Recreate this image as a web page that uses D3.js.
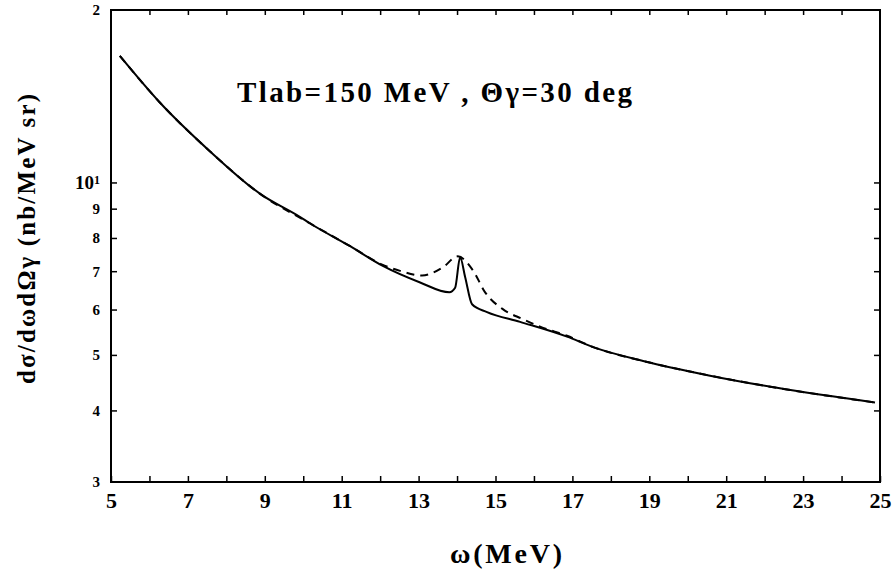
<!DOCTYPE html>
<html>
<head>
<meta charset="utf-8">
<script src="https://cdn.jsdelivr.net/npm/d3@7"></script>
<style>
  body { margin: 0; background: #fff; }
  svg { display: block; }
  text { font-family: "Liberation Serif", "Times New Roman", serif; font-weight: bold; fill: #000; }
</style>
</head>
<body>
<script>
// solid curve
let omegaSolid = [5.23, 6.27, 7.57, 8.88, 9.92, 10.18, 11.22, 12.07, 13.04, 13.8, 13.95, 14.08, 14.21, 14.39, 14.78, 15.64, 16.86, 17.54, 18.84, 20.58, 22.32, 24.87];
let sigmaSolid = [16.63, 13.79, 11.34, 9.55, 8.70, 8.48, 7.74, 7.15, 6.69, 6.43, 6.55, 7.40, 6.84, 6.13, 5.94, 5.71, 5.38, 5.16, 4.88, 4.60, 4.38, 4.13];

// dashed curve
let omegaDashed = [5.23, 6.27, 7.57, 8.88, 10.18, 11.22, 12.07, 12.52, 13.09, 13.63, 14.02, 14.41, 14.73, 15.19, 15.69, 16.16, 16.86, 17.54, 18.84, 20.58, 22.32, 24.87];
let sigmaDashed = [16.63, 13.79, 11.34, 9.55, 8.48, 7.74, 7.18, 7.01, 6.88, 7.11, 7.43, 7.03, 6.43, 6.01, 5.78, 5.60, 5.40, 5.16, 4.88, 4.60, 4.38, 4.13];

let xLabels = [5, 7, 9, 11, 13, 15, 17, 19, 21, 23, 25];
let xTickVals = d3.range(5, 26);
let yTickVals = [3, 4, 5, 6, 7, 8, 9, 10, 20];

let W = 895, H = 575;
let mLeft = 111, mRight = 880, mTop = 10, mBottom = 482;

let svg = d3.select("body").append("svg")
    .attr("width", W)
    .attr("height", H);

svg.append("rect").attr("width", W).attr("height", H).attr("fill", "#fff");

let x = d3.scaleLinear().domain([5, 25]).range([mLeft, mRight]);
let y = d3.scaleLog().domain([3, 20]).range([mBottom, mTop]);

// frame
svg.append("rect")
    .attr("x", mLeft).attr("y", mTop)
    .attr("width", mRight - mLeft).attr("height", mBottom - mTop)
    .attr("fill", "none").attr("stroke", "#000").attr("stroke-width", 2);

// bottom axis
let gx = svg.append("g").attr("transform", "translate(0," + mBottom + ")")
    .call(d3.axisBottom(x).tickValues(xTickVals).tickSize(-6).tickPadding(10)
        .tickFormat(function (d) { return xLabels.indexOf(d) >= 0 ? d : ""; }));
gx.select(".domain").remove();
gx.selectAll("line").attr("stroke-width", 1.5);
gx.selectAll("text").attr("font-family", null).attr("font-size", null).style("font-size", "22px");

// top axis (ticks only)
let gt = svg.append("g").attr("transform", "translate(0," + mTop + ")")
    .call(d3.axisTop(x).tickValues(xTickVals.slice(1, -1)).tickSize(-5).tickFormat(""));
gt.select(".domain").remove();
gt.selectAll("line").attr("stroke-width", 1.5);

// left axis
let gy = svg.append("g").attr("transform", "translate(" + mLeft + ",0)")
    .call(d3.axisLeft(y).tickValues(yTickVals).tickSize(-6).tickPadding(11)
        .tickFormat(function (d) { return d === 20 ? "2" : (d === 10 ? "10" : d); }));
gy.select(".domain").remove();
gy.selectAll("line").attr("stroke-width", 1.5)
    .attr("x2", function (d) { return (d === 3 || d === 20) ? 0 : 6; });
gy.selectAll("text").attr("font-family", null).attr("font-size", null).style("font-size", "15px")
    .each(function (d) {
        if (d === 10) {
            let t = d3.select(this).style("font-size", "19px").text("10");
            t.append("tspan").attr("dy", "-0.45em").style("font-size", "12px").text("1");
        }
    });

// right axis (ticks only)
let gr = svg.append("g").attr("transform", "translate(" + mRight + ",0)")
    .call(d3.axisRight(y).tickValues(yTickVals.slice(1, -1)).tickSize(-6).tickFormat(""));
gr.select(".domain").remove();
gr.selectAll("line").attr("stroke-width", 1.5);

// curves
let line = d3.line()
    .x(function (d) { return x(d[0]); })
    .y(function (d) { return y(d[1]); })
    .curve(d3.curveMonotoneX);

svg.append("path")
    .datum(d3.zip(omegaDashed, sigmaDashed))
    .attr("d", line)
    .attr("fill", "none").attr("stroke", "#000").attr("stroke-width", 2)
    .attr("stroke-dasharray", "8,6");

svg.append("path")
    .datum(d3.zip(omegaSolid, sigmaSolid))
    .attr("d", line)
    .attr("fill", "none").attr("stroke", "#000").attr("stroke-width", 2);

// annotation
svg.append("text")
    .attr("x", 237).attr("y", 102)
    .attr("textLength", 395).attr("lengthAdjust", "spacing")
    .style("font-size", "29px")
    .text("Tlab=150 MeV , \u0398\u03b3=30 deg");

// axis titles
svg.append("text")
    .attr("x", 506).attr("y", 563)
    .attr("text-anchor", "middle")
    .attr("textLength", 112).attr("lengthAdjust", "spacing")
    .style("font-size", "28px")
    .text("\u03c9(MeV)");

svg.append("text")
    .attr("transform", "translate(35,239) rotate(-90)")
    .attr("text-anchor", "middle")
    .attr("textLength", 290).attr("lengthAdjust", "spacing")
    .style("font-size", "25px")
    .text("d\u03c3/d\u03c9d\u03a9\u03b3  (nb/MeV sr)");
</script>
</body>
</html>
